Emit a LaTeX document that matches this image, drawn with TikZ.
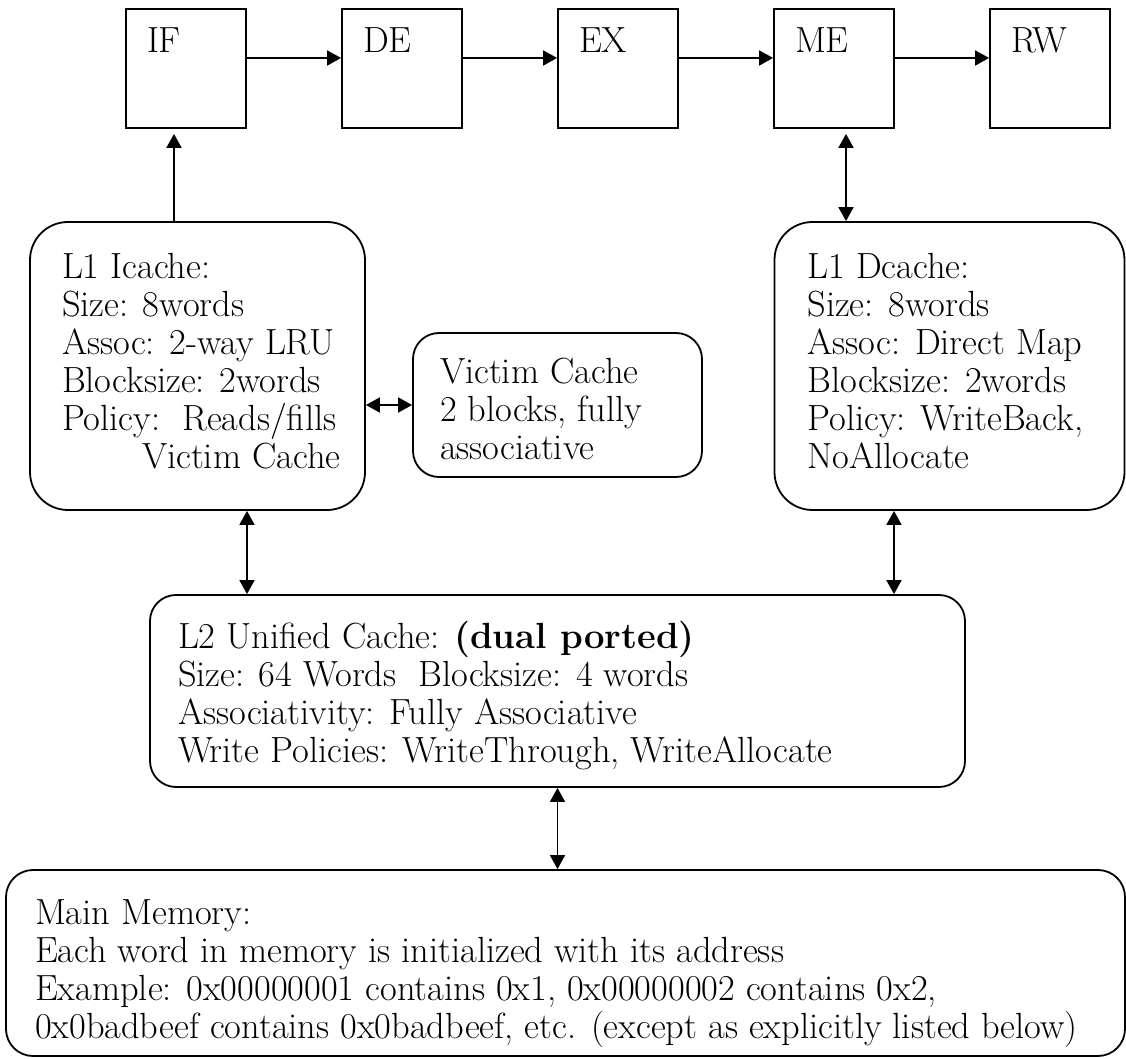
\documentclass[tikz,border=0pt]{standalone}
\usepackage{tikz}
\usetikzlibrary{arrows.meta,positioning}

\begin{document}
\begin{tikzpicture}[x=0.5pt,y=-0.5pt,
  font=\fontsize{18.2}{19}\selectfont, >={Triangle[length=7pt,width=7.5pt]},
  line width=0.9pt,
  stagebox/.style={draw, minimum width=60pt, minimum height=59.5pt, inner sep=0pt},
  cachebox/.style={draw, inner sep=0pt},
  boxtext/.style={anchor=north west, align=left, inner sep=0pt},
]
\useasboundingbox (0,0) rectangle (1126,1059);

% pipeline stages
\foreach \name/\txt [count=\i from 0] in {if/IF,de/DE,ex/EX,me/ME,rw/RW} {
  \node[stagebox] (\name) at (186+216*\i,68.5) {};
  \node[boxtext] (\name txt) at ([shift={(10.5pt,-9.5pt)}]\name.north west) {\txt};
}
\foreach \a/\b in {if/de,de/ex,ex/me,me/rw}
  \draw[->] ([yshift=5.25pt]\a.east) -- ([yshift=5.25pt]\b.west);

% caches
\node[cachebox, rounded corners=19pt, minimum width=167.5pt, minimum height=144pt] (icache) at (197.5,366) {};
\node[boxtext] (icachetxt) at ([shift={(16pt,-15.5pt)}]icache.north west)
  {L1 Icache:\\Size: 8words\\Assoc: 2-way LRU\\Blocksize: 2words\\Policy:\ \ Reads/fills\\\hspace*{40pt}Victim Cache};
\node[cachebox, rounded corners=13pt, minimum width=144.5pt, minimum height=72pt] (victim) at (557.5,405) {};
\node[boxtext] (victimtxt) at ([shift={(13.5pt,-12.5pt)}]victim.north west)
  {Victim Cache\\2 blocks, fully\\associative};
\node[cachebox, rounded corners=19pt, minimum width=175pt, minimum height=144pt] (dcache) at (949.5,366) {};
\node[boxtext] (dcachetxt) at ([shift={(16.5pt,-15.5pt)}]dcache.north west)
  {L1 Dcache:\\Size: 8words\\Assoc: Direct Map\\Blocksize: 2words\\Policy: WriteBack,\\NoAllocate};
\node[cachebox, rounded corners=13pt, minimum width=407.5pt, minimum height=96pt] (l2) at (557.5,691) {};
\node[boxtext] (l2txt) at ([shift={(14pt,-13pt)}]l2.north west)
  {L2 Unified Cache: \textbf{(dual ported)}\\Size: 64 Words\ \ Blocksize: 4 words\\Associativity: Fully Associative\\Write Policies: WriteThrough, WriteAllocate};
\node[cachebox, rounded corners=13.5pt, minimum width=559.5pt, minimum height=93pt] (mem) at (565.5,963) {};
\node[boxtext] (memtxt) at ([shift={(14.5pt,-15pt)}]mem.north west)
  {Main Memory:\\Each word in memory is initialized with its address\\Example: 0x00000001 contains 0x1, 0x00000002 contains 0x2,\\0x0badbeef contains 0x0badbeef, etc. (except as explicitly listed below)};

% connections
\coordinate (iftap) at ([xshift=-6pt]if.south);
\coordinate (metap) at ([xshift=6pt]me.south);
\coordinate (itap) at ([xshift=24.75pt]icache.south);
\coordinate (dtap) at ([xshift=-27.75pt]dcache.south);
\draw[->, shorten >=2.5pt] (iftap |- icache.north) -- (iftap);
\draw[<->, shorten <=2.5pt] (metap) -- (metap |- dcache.north);
\draw[<->] (victim.west -| icache.east) -- (victim.west);
\draw[<->] (itap) -- (itap |- l2.north);
\draw[<->] (dtap) -- (dtap |- l2.north);
\draw[<->] (l2.south) -- (l2.south |- mem.north);
\end{tikzpicture}
\end{document}
